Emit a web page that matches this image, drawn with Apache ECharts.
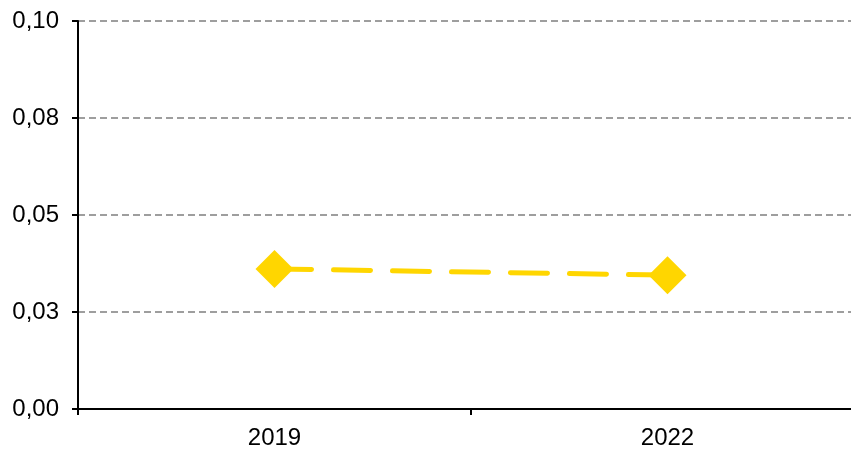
<!DOCTYPE html>
<html>
	<head>
		<meta charset="utf-8">
		<title></title>
		<style>
			html, body { margin: 0; padding: 0; background: #fff; overflow: hidden; }
		</style>
	</head>
	<script src="https://cdn.jsdelivr.net/npm/echarts@6/dist/echarts.min.js"></script>
	<body>
		<!-- le graphique déborde à droite de la fenêtre, comme l'original -->
		<div id="main" style="width: 865px;height:452px;"></div>
	</body>
	<script type="text/javascript">
		// données
		var years = ['2019', '2022'];
		var values = [0.0361, 0.0345];
		var yTickLabels = ['0,00', '0,03', '0,05', '0,08', '0,10'];
		var yStep = 0.025;

		var myChart = echarts.init(document.getElementById('main'));
		myChart.setOption({
			animation: false,
			grid: {
				left: 78,
				right: 1,
				top: 21,
				bottom: 43
			},
			xAxis: {
				type: 'category',
				data: years,
				boundaryGap: true,
				axisLine: { lineStyle: { color: '#000', width: 2 } },
				axisTick: { show: true, length: 6, lineStyle: { color: '#000', width: 2 } },
				axisLabel: {
					color: '#000',
					fontFamily: 'Liberation Sans',
					fontSize: 24,
					margin: 17
				}
			},
			yAxis: {
				type: 'value',
				min: 0,
				max: 0.1,
				interval: yStep,
				axisLine: { show: true, lineStyle: { color: '#000', width: 2 } },
				axisTick: { show: true, length: 6, lineStyle: { color: '#000', width: 2 } },
				axisLabel: {
					color: '#000',
					fontFamily: 'Liberation Sans',
					fontSize: 24,
					margin: 19,
					padding: [5, 0, 0, 0],
					formatter: function (v) {
						return yTickLabels[Math.round(v / yStep)];
					}
				},
				splitLine: {
					show: true,
					lineStyle: { color: '#7f7f7f', width: 1.5, type: [7, 4] }
				}
			},
			series: [{
				type: 'line',
				data: values,
				symbol: 'diamond',
				symbolSize: 38,
				itemStyle: { color: '#FFD600' },
				lineStyle: {
					color: '#FFD600',
					width: 5,
					type: [37, 22],
					cap: 'round'
				}
			}]
		});
	</script>
</html>
